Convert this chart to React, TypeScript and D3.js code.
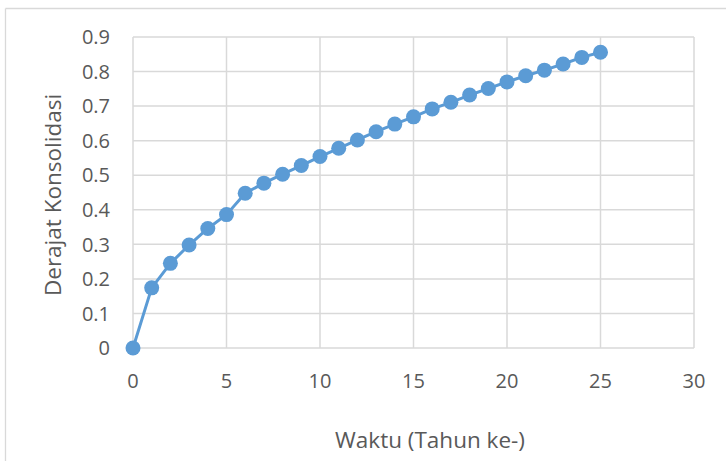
import React from "react";
import * as d3 from "d3";

// Consolidation degree per year
const years: number[] = [0, 1, 2, 3, 4, 5, 6, 7, 8, 9, 10, 11, 12, 13, 14, 15, 16, 17, 18, 19, 20, 21, 22, 23, 24, 25];
const derajat: number[] = [
  0, 0.174, 0.245, 0.298, 0.346, 0.386, 0.448, 0.477, 0.503, 0.528, 0.554, 0.578, 0.602,
  0.626, 0.648, 0.669, 0.692, 0.711, 0.732, 0.751, 0.770, 0.788, 0.804, 0.822, 0.841, 0.856,
];
const xTicks: number[] = [0, 5, 10, 15, 20, 25, 30];
const yTicks: number[] = [0, 0.1, 0.2, 0.3, 0.4, 0.5, 0.6, 0.7, 0.8, 0.9];

const W = 726;
const H = 461;
const plot = { left: 133, right: 694, top: 37, bottom: 348 };
const blue = "#5B9BD5";
const grid = "#D9D9D9";
const textColor = "#595959";
const font = "'Open Sans', sans-serif";

export default function App() {
  const x = d3.scaleLinear().domain([0, 30]).range([plot.left, plot.right]);
  const y = d3.scaleLinear().domain([0, 0.9]).range([plot.bottom, plot.top]);
  const line = d3
    .line<number>()
    .x((_, i) => x(years[i]))
    .y((d) => y(d));

  return (
    <svg
      width={W}
      height={H}
      style={{ position: "absolute", left: 0, top: 0, background: "#fff" }}
      fontFamily={font}
    >
      {/* chart frame */}
      <line x1={5.5} y1={8.5} x2={W} y2={8.5} stroke={grid} strokeWidth={1.3} />
      <line x1={5.5} y1={8.5} x2={5.5} y2={H} stroke={grid} strokeWidth={1.3} />

      {/* gridlines */}
      {yTicks.map((t) => (
        <line key={"gy" + t} x1={plot.left} x2={plot.right} y1={y(t)} y2={y(t)} stroke={grid} strokeWidth={1.5} />
      ))}
      {xTicks.map((t) => (
        <line key={"gx" + t} x1={x(t)} x2={x(t)} y1={plot.top} y2={plot.bottom} stroke={grid} strokeWidth={1.5} />
      ))}

      {/* tick labels */}
      {yTicks.map((t) => (
        <text
          key={"ty" + t}
          x={plot.left - 23}
          y={y(t)}
          dy="0.36em"
          textAnchor="end"
          fontSize={20}
          fill={textColor}
        >
          {t === 0 ? "0" : d3.format(".1f")(t)}
        </text>
      ))}
      {xTicks.map((t) => (
        <text
          key={"tx" + t}
          x={x(t)}
          y={plot.bottom + 40}
          textAnchor="middle"
          fontSize={20}
          fill={textColor}
        >
          {t}
        </text>
      ))}

      {/* axis titles */}
      <text x={430} y={448} textAnchor="middle" fontSize={22.5} fill={textColor}>
        Waktu (Tahun ke-)
      </text>
      <text
        transform={`translate(61, 195) rotate(-90)`}
        textAnchor="middle"
        fontSize={22.5}
        fill={textColor}
      >
        Derajat Konsolidasi
      </text>

      {/* series */}
      <path d={line(derajat) || ""} fill="none" stroke={blue} strokeWidth={3} strokeLinejoin="round" />
      {derajat.map((v, i) => (
        <circle key={"p" + i} cx={x(years[i])} cy={y(v)} r={7.5} fill={blue} />
      ))}
    </svg>
  );
}
